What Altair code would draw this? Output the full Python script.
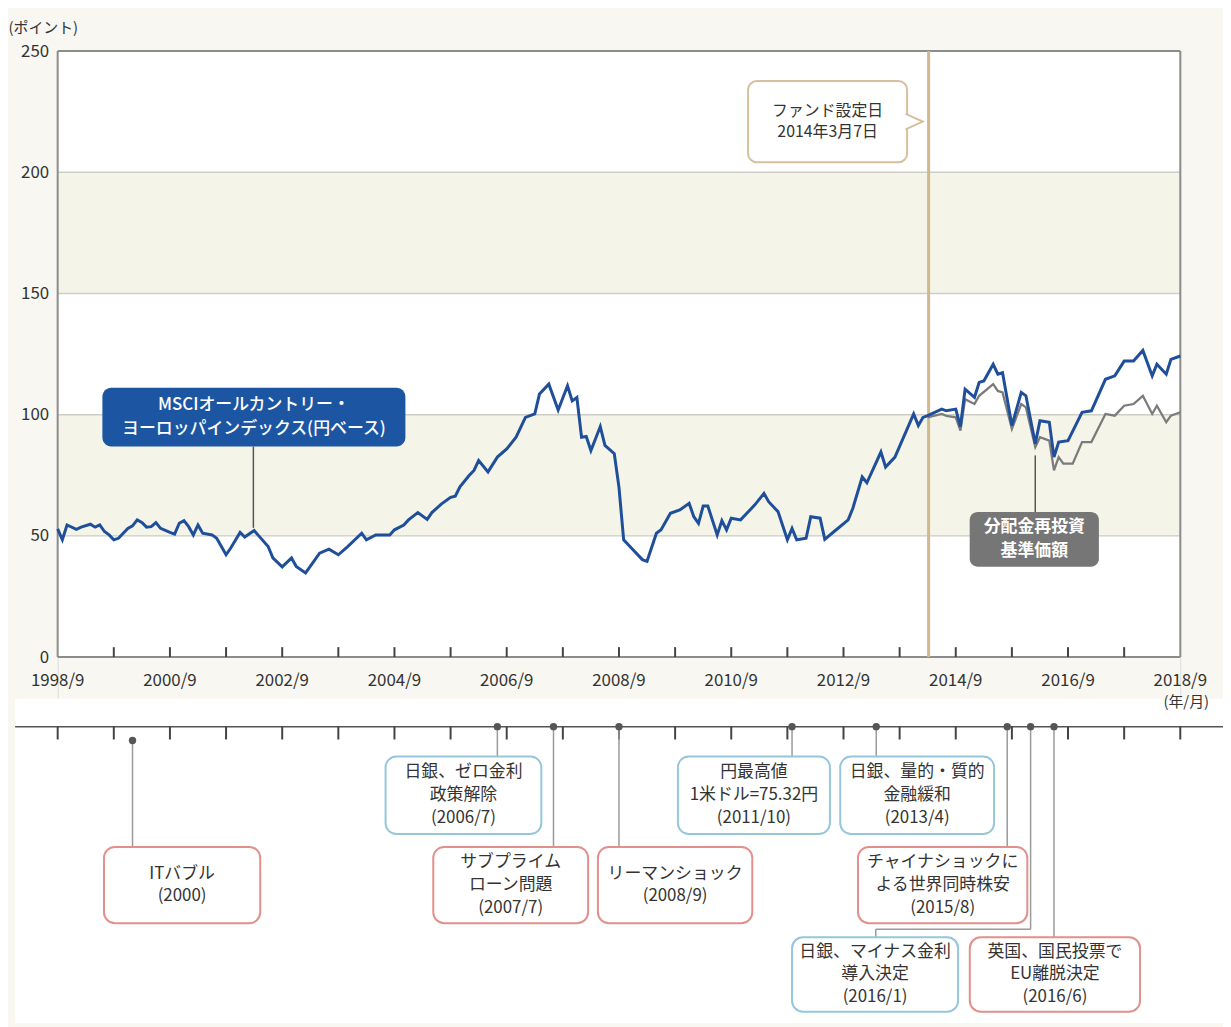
import altair as alt
import pandas as pd

# ---------------- data ----------------
blue_dates = ["1998-09","1998-10","1998-11","1999-01","1999-02","1999-04","1999-05","1999-06","1999-07","1999-08",
              "1999-09","1999-10","1999-12","2000-01","2000-02","2000-03","2000-04","2000-05","2000-06","2000-07",
              "2000-09","2000-10","2000-11","2000-12","2001-01","2001-02","2001-03","2001-04","2001-06","2001-07",
              "2001-09","2001-10","2001-12","2002-01","2002-03","2002-04","2002-06","2002-07","2002-09","2002-11",
              "2002-12","2003-02","2003-05","2003-07","2003-09","2003-11","2004-02","2004-03","2004-05","2004-08",
              "2004-09","2004-11","2004-12","2005-02","2005-04","2005-05","2005-07","2005-09","2005-10","2005-11",
              "2006-01","2006-02","2006-03","2006-05","2006-07","2006-09","2006-11","2007-01","2007-03","2007-04",
              "2007-06","2007-08","2007-10","2007-11","2007-12","2008-01","2008-02","2008-03","2008-05","2008-06",
              "2008-08","2008-09","2008-10","2008-12","2009-02","2009-03","2009-05","2009-06","2009-08","2009-10",
              "2009-12","2010-01","2010-02","2010-03","2010-04","2010-06","2010-07","2010-08","2010-09","2010-11",
              "2011-01","2011-02","2011-04","2011-05","2011-07","2011-09","2011-10","2011-11","2012-01","2012-02",
              "2012-04","2012-05","2012-07","2012-10","2012-11","2013-01","2013-02","2013-05","2013-06","2013-08",
              "2013-12","2014-01","2014-02","2014-03","2014-06","2014-07","2014-09","2014-10","2014-11","2015-01",
              "2015-02","2015-03","2015-05","2015-06","2015-07","2015-09","2015-11","2015-12","2016-02","2016-03",
              "2016-05","2016-06","2016-07","2016-09","2016-12","2017-02","2017-05","2017-07","2017-09","2017-11",
              "2018-01","2018-03","2018-04","2018-06","2018-07","2018-09"]
blue_values = [52.9,48.4,54.5,52.7,53.6,54.8,53.6,54.5,51.8,50.4,
               48.4,49.0,53.1,54.1,56.6,55.5,53.6,53.8,55.5,53.1,
               51.4,50.7,55.2,56.3,53.8,50.4,54.5,51.1,50.4,49.0,
               42.2,45.0,51.4,49.5,52.2,50.0,45.6,40.9,37.2,40.9,
               37.4,34.7,42.9,44.5,42.2,45.6,51.1,48.4,50.4,50.4,
               52.5,54.5,56.6,59.6,56.8,59.6,63.1,65.9,66.4,70.2,
               75.0,77.0,81.1,76.4,82.5,85.9,90.7,98.9,100.3,108.5,
               112.6,101.9,111.9,105.7,107.1,90.7,91.0,85.2,95.1,87.3,
               83.9,70.0,48.4,44.3,40.2,39.5,51.1,52.5,59.3,60.7,
               63.4,57.9,55.2,62.3,62.3,50.4,56.3,52.5,57.3,56.6,
               60.7,62.7,67.5,64.1,60.0,48.4,53.1,48.4,49.0,57.9,
               57.3,48.6,51.8,56.6,61.4,74.3,71.9,84.6,78.4,82.5,
               100.3,95.5,98.9,99.6,102.3,101.6,102.3,95.1,110.5,107.1,
               113.3,113.9,120.8,116.7,117.3,95.5,109.2,107.8,88.0,97.5,
               96.9,82.5,88.7,89.3,101.0,101.6,114.6,116.0,122.1,122.1,
               126.5,116.0,120.8,116.7,122.8,124.2]

gray_dates = ["2014-03","2014-06","2014-07","2014-09","2014-10","2014-11","2015-01","2015-02","2015-05","2015-06",
              "2015-07","2015-09","2015-11","2015-12","2016-02","2016-03","2016-05","2016-06","2016-07","2016-08",
              "2016-10","2016-12","2017-02","2017-05","2017-07","2017-09","2017-11","2018-01","2018-03","2018-04",
              "2018-06","2018-07","2018-09"]
gray_values = [98.9,100.3,99.5,98.9,93.4,106.4,104.4,107.8,112.6,109.8,
               109.2,94.1,104.4,103.0,86.6,90.7,89.3,77.0,82.5,79.8,
               79.8,88.7,88.7,100.3,99.6,103.7,104.4,107.8,100.3,103.7,
               96.9,99.6,101.0]

y_ticks = [0, 50, 100, 150, 200, 250]
x_label_dates = ["1998-09","2000-09","2002-09","2004-09","2006-09","2008-09",
                 "2010-09","2012-09","2014-09","2016-09","2018-09"]
x_labels = ["1998/9","2000/9","2002/9","2004/9","2006/9","2008/9",
            "2010/9","2012/9","2014/9","2016/9","2018/9"]
band_low = [50, 150]
band_high = [100, 200]
grid_values = [50, 100, 150, 200]

fund_date = "2014-03-07"
fund_text = "ファンド設定日\n2014年3月7日"
msci_text = "MSCIオールカントリー・\nヨーロッパインデックス(円ベース)"
nav_text = "分配金再投資\n基準価額"

event_texts = ["ITバブル\n(2000)",
               "日銀、ゼロ金利\n政策解除\n(2006/7)",
               "サブプライム\nローン問題\n(2007/7)",
               "リーマンショック\n(2008/9)",
               "円最高値\n1米ドル=75.32円\n(2011/10)",
               "日銀、量的・質的\n金融緩和\n(2013/4)",
               "チャイナショックに\nよる世界同時株安\n(2015/8)",
               "日銀、マイナス金利\n導入決定\n(2016/1)",
               "英国、国民投票で\nEU離脱決定\n(2016/6)"]
event_dates = ["2000-01","2006-07","2007-07","2008-09","2011-10","2013-04","2015-08","2016-01","2016-06"]
event_kind = ["red","blue","red","red","blue","blue","red","blue","red"]
event_row = [1, 0, 1, 1, 0, 0, 1, 2, 2]

# ---------------- layout (in axis units: x = months since 1998/9, y = points) ----------------
PX_PER_UNIT = 2.44  # 976 px for 400 units


def mi(s):
    parts = s.split("-")
    y, m = int(parts[0]), int(parts[1])
    d = int(parts[2]) if len(parts) > 2 else 1
    return (y - 1998) * 12 + (m - 9) + (d - 1) / 31.0


def first_line_y(center, text, line_height):
    n = text.count("\n") + 1
    return center + (n - 1) * line_height / 2.0 / PX_PER_UNIT


row_top = [-41.0, -78.3, -115.6]
row_bot = [-73.0, -109.8, -146.3]
box_left = [9.9, 70.1, 80.3, 115.5, 132.6, 167.3, 171.1, 157.0, 195.0]
box_right = [43.3, 103.4, 113.4, 148.5, 165.1, 200.2, 207.3, 192.5, 231.4]
TL_Y = -28.7
TL_TICK = -34.0

FONT = "Noto Sans CJK JP"
TXT = "#333333"

X = alt.X("x:Q", scale=alt.Scale(domain=[0, 240], nice=False, zero=False), axis=None)
Y = alt.Y("y:Q", scale=alt.Scale(domain=[-150, 250], nice=False, zero=False),
          axis=alt.Axis(values=y_ticks, grid=False, domain=False, ticks=False,
                        labelFontSize=17, labelColor=TXT, labelPadding=9, labelFont=FONT,
                        title="(ポイント)", titleAngle=0, titleAlign="left", titleBaseline="middle",
                        titleX=-50, titleY=-24, titleFontSize=15, titleFontWeight="normal",
                        titleColor=TXT, titleFont=FONT))


def rect_df(x, x2, y, y2, **extra):
    d = {"x": x, "x2": x2, "y": y, "y2": y2}
    d.update(extra)
    return pd.DataFrame(d)


layers = []

# white plot area and white timeline panel
layers.append(alt.Chart(rect_df([0, -9.1], [240, 249.2], [0, -17.2], [250, -151])).mark_rect(
    color="white").encode(x=X, x2="x2:Q", y=Y, y2="y2:Q"))
# bands
layers.append(alt.Chart(rect_df([0, 0], [240, 240], band_low, band_high)).mark_rect(
    color="#f5f4e8").encode(x=X, x2="x2:Q", y=Y, y2="y2:Q"))
# grid
layers.append(alt.Chart(pd.DataFrame({"x": [0]*4, "x2": [240]*4, "y": grid_values})).mark_rule(
    color="#cdcdc6", strokeWidth=1.5).encode(x=X, x2="x2:Q", y=Y))
# frame
layers.append(alt.Chart(rect_df([0, 240, 0, 0], [0, 240, 240, 240], [0, 0, 250, 0], [250, 250, 250, 0])).mark_rule(
    color="#8c8c8c", strokeWidth=2).encode(x=X, x2="x2:Q", y=Y, y2="y2:Q"))
# axis ticks pointing up
tick_x = list(range(12, 240, 12))
layers.append(alt.Chart(pd.DataFrame({"x": tick_x, "y": [0]*len(tick_x), "y2": [4.1]*len(tick_x)})).mark_rule(
    color="#444444", strokeWidth=2).encode(x=X, y=Y, y2="y2:Q"))
# x labels
layers.append(alt.Chart(pd.DataFrame({"x": [mi(d) for d in x_label_dates], "y": [0]*len(x_labels), "t": x_labels})).mark_text(
    font=FONT, fontSize=17, color=TXT, dy=24, baseline="middle").encode(x=X, y=Y, text="t:N"))
layers.append(alt.Chart(pd.DataFrame({"x": [240], "y": [0], "t": ["(年/月)"]})).mark_text(
    font=FONT, fontSize=15, color=TXT, dy=45, dx=6, baseline="middle").encode(x=X, y=Y, text="t:N"))

# fund inception line
fx = mi(fund_date)
layers.append(alt.Chart(pd.DataFrame({"x": [fx], "y": [0], "y2": [250]})).mark_rule(
    color="#d3b78f", strokeWidth=3).encode(x=X, y=Y, y2="y2:Q"))

# series
gray_df = pd.DataFrame({"x": [mi(d) for d in gray_dates], "y": gray_values})
blue_df = pd.DataFrame({"x": [mi(d) for d in blue_dates], "y": blue_values})
layers.append(alt.Chart(gray_df).mark_line(color="#7b7b7b", strokeWidth=2.3).encode(x=X, y=Y))
layers.append(alt.Chart(blue_df).mark_line(color="#1f4f9a", strokeWidth=3).encode(x=X, y=Y))

# MSCI label
layers.append(alt.Chart(pd.DataFrame({"x": [41.84], "y": [86.9], "y2": [53.3]})).mark_rule(
    color="#555555", strokeWidth=1.5).encode(x=X, y=Y, y2="y2:Q"))
layers.append(alt.Chart(rect_df([9.56], [74.34], [86.9], [111.07])).mark_rect(
    color="#1c56a2", cornerRadius=9).encode(x=X, x2="x2:Q", y=Y, y2="y2:Q"))
layers.append(alt.Chart(pd.DataFrame({"x": [41.95], "y": [first_line_y(99.0, msci_text, 24)], "t": [msci_text]})).mark_text(
    font=FONT, fontSize=17, fontWeight=500, color="white", lineBreak="\n", lineHeight=24,
    baseline="middle").encode(x=X, y=Y, text="t:N"))

# NAV label
layers.append(alt.Chart(pd.DataFrame({"x": [209.0], "y": [59.84], "y2": [83.2]})).mark_rule(
    color="#555555", strokeWidth=1.5).encode(x=X, y=Y, y2="y2:Q"))
layers.append(alt.Chart(rect_df([194.98], [222.6], [37.3], [59.84])).mark_rect(
    color="#767676", cornerRadius=8).encode(x=X, x2="x2:Q", y=Y, y2="y2:Q"))
layers.append(alt.Chart(pd.DataFrame({"x": [208.8], "y": [first_line_y(48.6, nav_text, 24)], "t": [nav_text]})).mark_text(
    font=FONT, fontSize=17, fontWeight="bold", color="white", lineBreak="\n", lineHeight=24,
    baseline="middle").encode(x=X, y=Y, text="t:N"))

# fund callout
layers.append(alt.Chart(rect_df([147.6], [181.6], [204.1], [237.7])).mark_rect(
    fill="white", stroke="#d6bf9c", strokeWidth=2, cornerRadius=9).encode(x=X, x2="x2:Q", y=Y, y2="y2:Q"))
layers.append(alt.Chart(pd.DataFrame({"x": [183.1], "y": [220.9]})).mark_point(
    shape="M -1 -0.9 L 1 0 L -1 0.9", size=300, filled=False, fill="white", fillOpacity=1,
    stroke="#d6bf9c", strokeWidth=2, opacity=1).encode(x=X, y=Y))
layers.append(alt.Chart(pd.DataFrame({"x": [164.6], "y": [first_line_y(220.9, fund_text, 22)], "t": [fund_text]})).mark_text(
    font=FONT, fontSize=16, color=TXT, lineBreak="\n", lineHeight=22,
    baseline="middle").encode(x=X, y=Y, text="t:N"))

# ---------------- timeline ----------------
layers.append(alt.Chart(pd.DataFrame({"x": [-9.1], "x2": [249.2], "y": [TL_Y]})).mark_rule(
    color="#555555", strokeWidth=1.5).encode(x=X, x2="x2:Q", y=Y))
tl_ticks = list(range(0, 241, 12))
layers.append(alt.Chart(pd.DataFrame({"x": tl_ticks, "y": [TL_Y]*len(tl_ticks), "y2": [TL_TICK]*len(tl_ticks)})).mark_rule(
    color="#444444", strokeWidth=2).encode(x=X, y=Y, y2="y2:Q"))

ev_x = [mi(d) for d in event_dates]
dot_y = [TL_TICK - 0.4 if i == 0 else TL_Y for i in range(len(ev_x))]
conn = []
for i, ex in enumerate(ev_x):
    if i == 7:
        bend = -112.3
        conn.append((ex, dot_y[i], ex, bend))
        conn.append((ex, bend, 174.9, bend))
        conn.append((174.9, bend, 174.9, row_top[event_row[i]]))
    else:
        conn.append((ex, dot_y[i], ex, row_top[event_row[i]]))
conn_df = pd.DataFrame(conn, columns=["x", "y", "x2", "y2"])
layers.append(alt.Chart(conn_df).mark_rule(color="#9a9a9a", strokeWidth=1.5).encode(
    x=X, x2="x2:Q", y=Y, y2="y2:Q"))
layers.append(alt.Chart(pd.DataFrame({"x": ev_x, "y": dot_y})).mark_point(
    filled=True, size=55, color="#555555", opacity=1).encode(x=X, y=Y))

box_df = pd.DataFrame({
    "x": box_left, "x2": box_right,
    "y": [row_bot[r] for r in event_row], "y2": [row_top[r] for r in event_row],
    "kind": event_kind,
})
layers.append(alt.Chart(box_df).mark_rect(fill="white", strokeWidth=2, cornerRadius=11).encode(
    x=X, x2="x2:Q", y=Y, y2="y2:Q",
    stroke=alt.Stroke("kind:N", scale=alt.Scale(domain=["red", "blue"], range=["#e2908c", "#95c6dc"]), legend=None)))
txt_df = pd.DataFrame({
    "x": [(a + b) / 2 for a, b in zip(box_left, box_right)],
    "y": [first_line_y((row_top[r] + row_bot[r]) / 2, t, 23) for r, t in zip(event_row, event_texts)],
    "t": event_texts,
})
layers.append(alt.Chart(txt_df).mark_text(
    font=FONT, fontSize=17, color=TXT, lineBreak="\n", lineHeight=23, baseline="middle").encode(
    x=X, y=Y, text="t:N"))

chart = alt.layer(*layers).properties(
    width=1130, height=976,
    autosize=alt.AutoSizeParams(type="none"),
    padding={"left": 50, "top": 40, "right": 43, "bottom": 3},
    background="#f8f7f1",
).configure_view(stroke=None).configure(font=FONT)

chart.save("out.html", embed_options={"renderer": "svg", "actions": False})
